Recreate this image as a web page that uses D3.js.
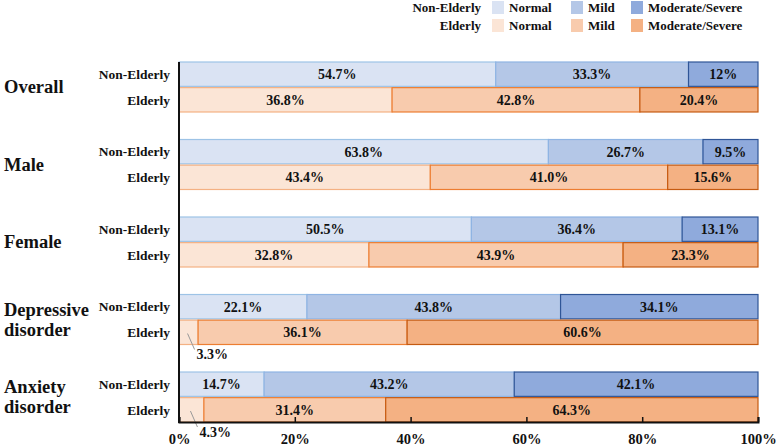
<!DOCTYPE html>
<html><head><meta charset="utf-8">
<script src="https://cdn.jsdelivr.net/npm/d3@7"></script>
<style>body{margin:0;background:#fff}svg{display:block}text{font-family:"Liberation Serif","Times New Roman",serif;font-weight:bold;fill:#111}</style>
</head><body><svg id="c" width="777" height="447"></svg>
<script>
const groups = [["Overall"], ["Male"], ["Female"], ["Depressive", "disorder"], ["Anxiety", "disorder"]];
const cohorts = ["Non-Elderly", "Elderly"];
const levels = ["Normal", "Mild", "Moderate/Severe"];
const nonElderly = [["54.7","33.3","12"],["63.8","26.7","9.5"],["50.5","36.4","13.1"],["22.1","43.8","34.1"],["14.7","43.2","42.1"]];
const elderly = [["36.8","42.8","20.4"],["43.4","41.0","15.6"],["32.8","43.9","23.3"],["3.3","36.1","60.6"],["4.3","31.4","64.3"]];
const xTicks = [0, 20, 40, 60, 80, 100];

const fills = {"Non-Elderly": ["#dae3f3","#b4c7e7","#8faadc"], "Elderly": ["#fbe5d6","#f8cbad","#f4b183"]};
const strokes = {"Non-Elderly": ["#9dc3e6","#8fb4e3","#2f5597"], "Elderly": ["#f4b183","#ed7d31","#c55a11"]};

const svg = d3.select("#c");
const x = d3.scaleLinear().domain([0,100]).range([179, 758]);
const y0 = d3.scaleBand().domain(d3.range(groups.length)).range([62, 422]).paddingInner(0.355).paddingOuter(0);
const y1 = d3.scaleBand().domain(cohorts).range([0, y0.bandwidth()]).paddingInner(0.05);

const rows = [];
groups.forEach((g, gi) => {
  cohorts.forEach(c => {
    const vals = (c === "Non-Elderly" ? nonElderly : elderly)[gi];
    let acc = 0;
    vals.forEach((v, li) => {
      const n = +v;
      rows.push({gi, c, li, start: acc, end: acc + n, label: v + "%"});
      acc += n;
    });
  });
});

const segs = svg.append("g").selectAll("g").data(rows).join("g");
segs.append("rect")
  .attr("x", d => x(d.start))
  .attr("y", d => y0(d.gi) + y1(d.c))
  .attr("width", d => x(d.end) - x(d.start))
  .attr("height", y1.bandwidth())
  .attr("fill", d => fills[d.c][d.li])
  .attr("stroke", d => strokes[d.c][d.li])
  .attr("stroke-width", 1.2);

// labels
rows.forEach(d => {
  const yTop = y0(d.gi) + y1(d.c);
  const mid = (x(d.start) + x(d.end)) / 2;
  if (d.end - d.start < 8) {
    const yb = yTop + y1.bandwidth();
    svg.append("line").attr("x1", mid - 1).attr("y1", yTop + y1.bandwidth()*0.55)
      .attr("x2", mid + 6).attr("y2", yb + 5).attr("stroke", "#999").attr("stroke-width", 1);
    svg.append("text").attr("x", mid + 8).attr("y", yb + 10).attr("dy", "0.35em")
      .attr("font-size", 14).text(d.label);
  } else {
    svg.append("text").attr("x", mid).attr("y", yTop + y1.bandwidth()/2).attr("dy", "0.35em")
      .attr("text-anchor", "middle").attr("font-size", 14).text(d.label);
  }
});

// cohort labels
groups.forEach((g, gi) => {
  cohorts.forEach(c => {
    svg.append("text").attr("x", 170).attr("y", y0(gi) + y1(c) + y1.bandwidth()/2).attr("dy", "0.35em")
      .attr("text-anchor", "end").attr("font-size", 13.5).text(c);
  });
  const t = svg.append("text").attr("x", 4).attr("font-size", 18.5);
  const cy = y0(gi) + y0.bandwidth()/2;
  const lh = 20;
  g.forEach((line, i) => {
    t.append("tspan").attr("x", 4).attr("y", cy + (i - (g.length - 1)/2) * lh).attr("dy", "0.35em").text(line);
  });
});

// axes
const xa = svg.append("g").attr("transform", "translate(0,422)")
  .call(d3.axisBottom(x).tickValues(xTicks).tickSize(-5).tickPadding(12).tickFormat(d => d + "%"));
xa.select(".domain").attr("stroke", "#111").attr("stroke-width", 2);
xa.selectAll(".tick line").attr("stroke", "#111").attr("stroke-width", 1.5);
xa.selectAll(".tick text").attr("font-size", 14.5).attr("font-family", "Liberation Serif").attr("font-weight", "bold").attr("fill", "#111");
svg.append("line").attr("x1", x(0)).attr("x2", x(0)).attr("y1", 62).attr("y2", 423).attr("stroke", "#111").attr("stroke-width", 2);

// legend
const legX = [492, 571, 631];
cohorts.forEach((c, ci) => {
  const ly = 7 + ci * 18;
  svg.append("text").attr("x", 481).attr("y", ly).attr("dy", "0.35em").attr("text-anchor", "end").attr("font-size", 13).text(c);
  levels.forEach((lv, li) => {
    svg.append("rect").attr("x", legX[li]).attr("y", ly - 6).attr("width", 12).attr("height", 13).attr("fill", fills[c][li]);
    svg.append("text").attr("x", legX[li] + 17).attr("y", ly).attr("dy", "0.35em").attr("font-size", 13).text(lv);
  });
});
</script></body></html>
